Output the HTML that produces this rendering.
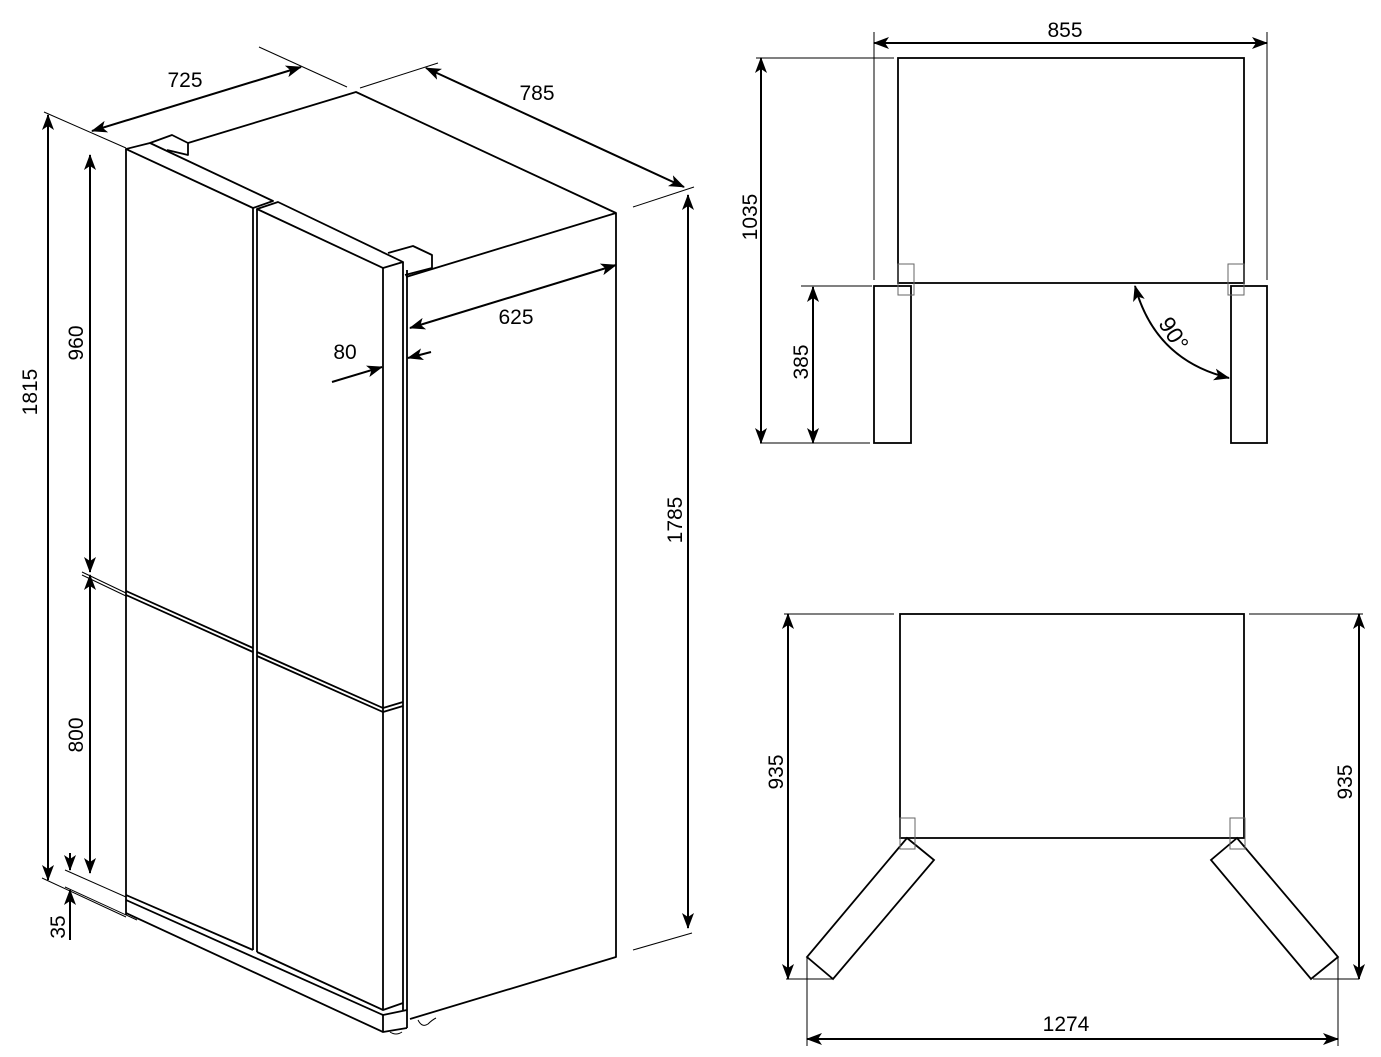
<!DOCTYPE html>
<html><head><meta charset="utf-8"><style>
html,body{margin:0;padding:0;background:#fff;}
svg{display:block;}
text{font-family:"Liberation Sans",Arial,sans-serif;font-size:21px;fill:#000;}
</style></head><body>
<svg width="1381" height="1057" viewBox="0 0 1381 1057" xmlns="http://www.w3.org/2000/svg">
<defs>
<marker id="a" markerUnits="userSpaceOnUse" markerWidth="16" markerHeight="12" refX="15" refY="6" orient="auto-start-reverse">
<path d="M0,0 L16,6 L0,12 L4,6 Z" fill="#000"/>
</marker>
</defs>
<g fill="none" stroke="#000" stroke-width="1.8" stroke-linejoin="round">
<path d="M188,143 L356,92 L616,213 L616,957 L410,1019"/>
<path d="M406,277 L616,213"/>
<path d="M126,149 L126,915"/>
<path d="M126,149 L150,143 L273,201 L253,208 Z"/>
<path d="M150,143 L172,135 L188,143 L188,155 L167,150"/>
<path d="M253,208 L253,950 M257,209 L257,952"/>
<path d="M257,209 L278,202 L403,262 L383,268 Z"/>
<path d="M388,253 L413,246 L432,255 L432,268 L405,275"/>
<path d="M383,268 L383,1010 M403,262 L403,1010 M407,270 L407,1028"/>
<path d="M126,591 L253,648 M126,595 L253,652"/>
<path d="M257,652 L383,708 L403,702 M257,656 L383,712 L403,706"/>
<path d="M126,895 L253,950 M257,952 L383,1010 L403,1003"/>
<path d="M126,900 L383,1015 L407,1010"/>
<path d="M126,913 L383,1032 L407,1028"/>
<path d="M383,1015 L383,1032"/>
<path d="M418,1020 q4,8 10,4 q4,-4 8,-6 M390,1032 q6,4 12,0" stroke-width="1"/>
</g>
<g fill="none" stroke="#000" stroke-width="1">
<path d="M259,47 L347,87 M44,112 L126,148 M360,88 L438,63 M633,207 L694,187 M633,950 L692,933"/>
<path d="M82,572 L126,593 M82,575 L126,596 M65,870 L126,897 M65,887 L137,920 M42,878 L126,917"/>
</g>
<g fill="none" stroke="#000" stroke-width="2">
<line x1="92" y1="131" x2="301" y2="67" marker-start="url(#a)" marker-end="url(#a)"/>
<line x1="426" y1="68" x2="684" y2="187" marker-start="url(#a)" marker-end="url(#a)"/>
<line x1="410" y1="328" x2="616" y2="265" marker-start="url(#a)" marker-end="url(#a)"/>
<line x1="332" y1="382" x2="382" y2="367" marker-end="url(#a)"/>
<line x1="431" y1="352" x2="408" y2="358" marker-end="url(#a)"/>
<line x1="48" y1="115" x2="48" y2="880" marker-start="url(#a)" marker-end="url(#a)"/>
<line x1="90" y1="155" x2="90" y2="572" marker-start="url(#a)" marker-end="url(#a)"/>
<line x1="90" y1="575" x2="90" y2="873" marker-start="url(#a)" marker-end="url(#a)"/>
<line x1="70" y1="853" x2="70" y2="870" marker-end="url(#a)"/>
<line x1="70" y1="940" x2="70" y2="890" marker-end="url(#a)"/>
<line x1="688" y1="195" x2="688" y2="928" marker-start="url(#a)" marker-end="url(#a)"/>
</g>
<text x="185" y="87" text-anchor="middle">725</text>
<text x="537" y="100" text-anchor="middle">785</text>
<text x="516" y="324" text-anchor="middle">625</text>
<text x="345" y="359" text-anchor="middle">80</text>
<text transform="translate(37,392) rotate(-90)" text-anchor="middle">1815</text>
<text transform="translate(83,343) rotate(-90)" text-anchor="middle">960</text>
<text transform="translate(83,735) rotate(-90)" text-anchor="middle">800</text>
<text transform="translate(65,927) rotate(-90)" text-anchor="middle">35</text>
<text transform="translate(682,520) rotate(-90)" text-anchor="middle">1785</text>

<g fill="none" stroke="#000" stroke-width="1.8">
<rect x="898" y="58" width="346" height="225"/>
<rect x="874" y="286" width="37" height="157"/>
<rect x="1231" y="286" width="36" height="157"/>
</g>
<g fill="none" stroke="#000" stroke-width="1">
<rect x="898" y="264" width="16" height="31" stroke="#666"/>
<rect x="1228" y="264" width="16" height="31" stroke="#666"/>
<path d="M874,32 L874,280 M1267,32 L1267,280 M756,58 L894,58 M760,443 L870,443 M801,286 L872,286"/>
</g>
<g fill="none" stroke="#000" stroke-width="2">
<line x1="874" y1="43" x2="1267" y2="43" marker-start="url(#a)" marker-end="url(#a)"/>
<line x1="761" y1="58" x2="761" y2="443" marker-start="url(#a)" marker-end="url(#a)"/>
<line x1="813" y1="287" x2="813" y2="443" marker-start="url(#a)" marker-end="url(#a)"/>
<path d="M1135,286 Q1155,360 1229,378" marker-start="url(#a)" marker-end="url(#a)"/>
</g>
<text x="1065" y="37" text-anchor="middle">855</text>
<text transform="translate(757,217) rotate(-90)" text-anchor="middle">1035</text>
<text transform="translate(808,362) rotate(-90)" text-anchor="middle">385</text>
<text transform="translate(1167,338) rotate(58)" text-anchor="middle" style="font-size:23px">90°</text>

<g fill="none" stroke="#000" stroke-width="1.8">
<rect x="900" y="614" width="344" height="224"/>
<path d="M907,838 L934,860 L833,979 L807,957 Z"/>
<path d="M1237,838 L1211,860 L1311,979 L1338,957 Z"/>
</g>
<g fill="none" stroke="#000" stroke-width="1">
<rect x="900" y="818" width="15" height="31" stroke="#666"/>
<rect x="1230" y="818" width="15" height="31" stroke="#666"/>
<path d="M784,614 L894,614 M1249,614 L1363,614 M786,979 L833,979 M1313,979 L1359,979 M807,957 L807,1046 M1338,957 L1338,1046"/>
</g>
<g fill="none" stroke="#000" stroke-width="2">
<line x1="788" y1="614" x2="788" y2="979" marker-start="url(#a)" marker-end="url(#a)"/>
<line x1="1359" y1="614" x2="1359" y2="979" marker-start="url(#a)" marker-end="url(#a)"/>
<line x1="807" y1="1039" x2="1338" y2="1039" marker-start="url(#a)" marker-end="url(#a)"/>
</g>
<text x="1066" y="1031" text-anchor="middle">1274</text>
<text transform="translate(783,772) rotate(-90)" text-anchor="middle">935</text>
<text transform="translate(1352,782) rotate(-90)" text-anchor="middle">935</text>
</svg>
</body></html>
